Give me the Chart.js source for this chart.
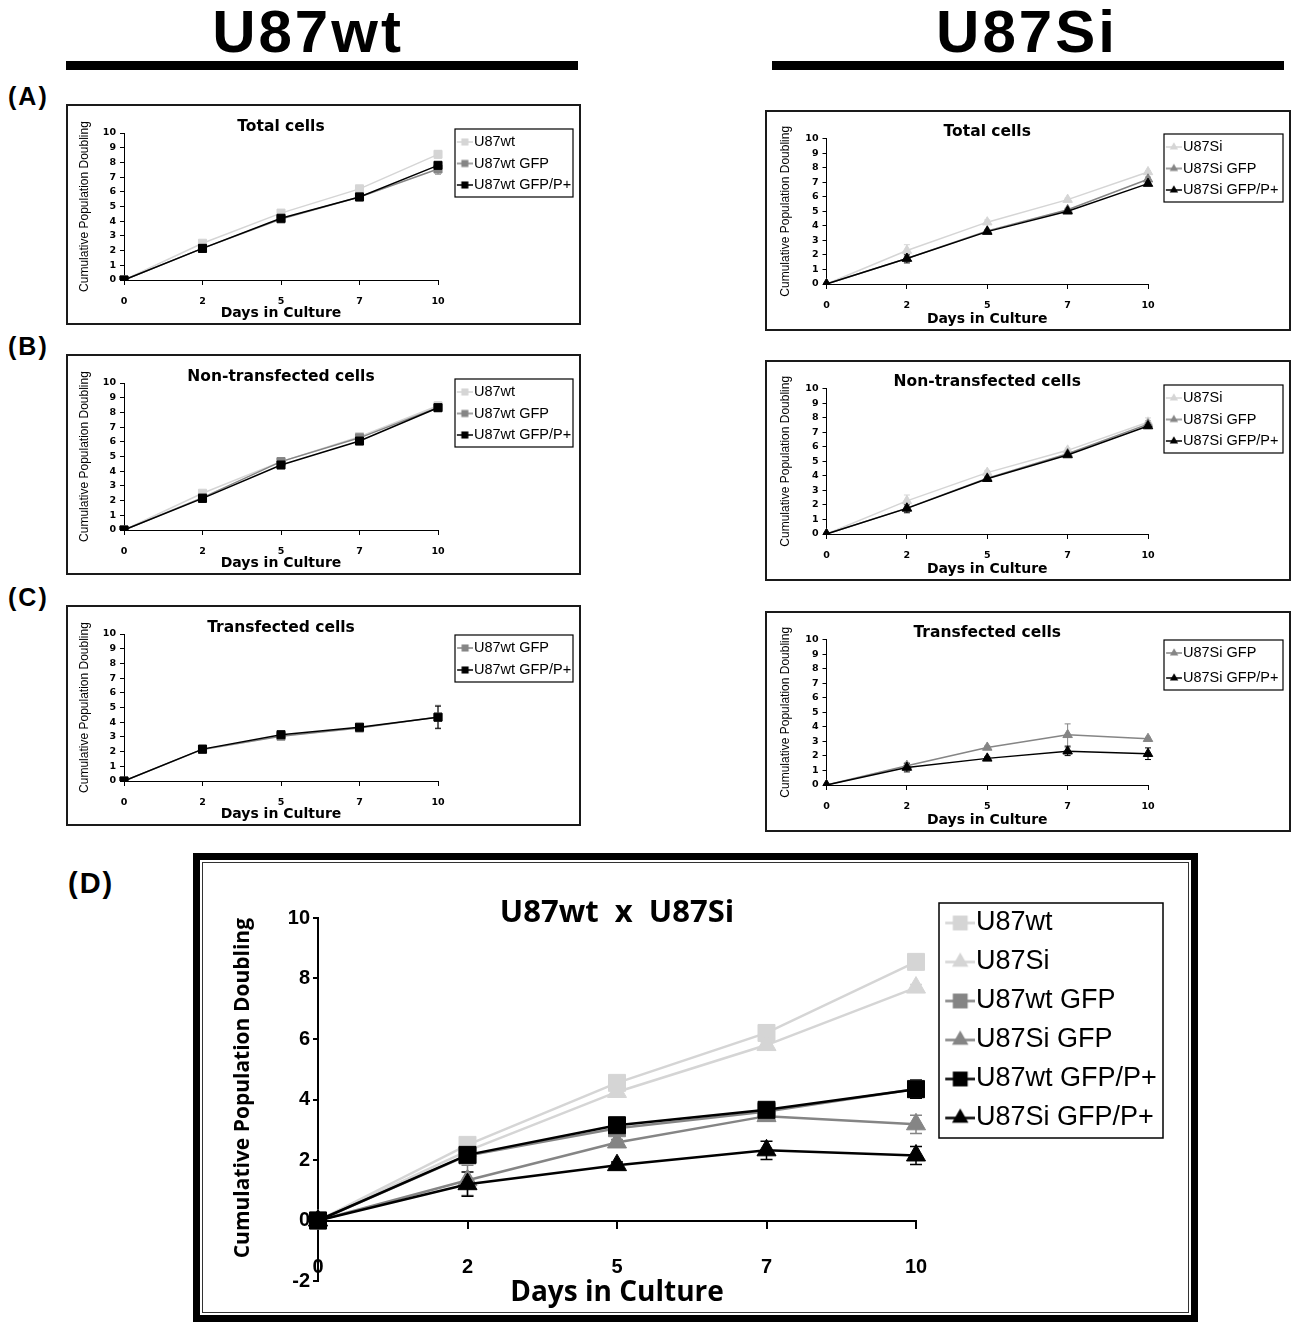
<!DOCTYPE html>
<html lang="en">
  <head>
    <meta charset="UTF-8" />
    <title>U87wt x U87Si — Cumulative Population Doubling</title>
    <script src="https://cdn.jsdelivr.net/npm/chart.js@4.4.1/dist/chart.umd.min.js"></script>
    <style>
      body {
        margin: 0;
        width: 1293px;
        height: 1322px;
        position: relative;
        overflow: hidden;
        background: #fff;
        font-family: "Liberation Sans", Arial, sans-serif;
        color: #000;
      }
      .head {
        position: absolute;
        top: 2px;
        width: 400px;
        text-align: center;
        font-weight: bold;
        font-size: 60px;
        line-height: 60px;
        letter-spacing: 3px;
      }
      .bar {
        position: absolute;
        top: 61px;
        width: 512px;
        height: 9px;
        background: #000;
      }
      .tag {
        position: absolute;
        font-weight: bold;
        font-size: 25px;
        line-height: 25px;
        letter-spacing: 2px;
      }
      .panel {
        position: absolute;
        box-sizing: border-box;
        border: 2px solid #1a1a1a;
        background: #fff;
      }
      .panel canvas { display: block; }
      /* double frame round panel D */
      .frame {
        position: absolute;
        left: 193px;
        top: 853px;
        width: 1005px;
        height: 469px;
        box-sizing: border-box;
        border: 7px solid #000;
        background: #fff;
      }
      .frame .inner {
        position: absolute;
        inset: 2px;
        border: 1.5px solid #333;
      }
      #chartD { position: absolute; left: 205px; top: 860px; }
    </style>
  </head>
  <body>
    <div class="head" style="left: 108px">U87wt</div>
    <div class="bar" style="left: 66px"></div>
    <div class="head" style="left: 827px">U87Si</div>
    <div class="bar" style="left: 772px"></div>

    <div class="tag" style="left: 8px; top: 84px">(A)</div>
    <div class="tag" style="left: 8px; top: 334px">(B)</div>
    <div class="tag" style="left: 8px; top: 585px">(C)</div>
    <div class="tag" style="left: 68px; top: 869px; font-size: 29px; line-height: 29px">(D)</div>

    <div class="panel" style="left: 66px; top: 104px; width: 515px; height: 221px"><canvas id="chartAwt" width="511" height="217"></canvas></div>
    <div class="panel" style="left: 66px; top: 354px; width: 515px; height: 221px"><canvas id="chartBwt" width="511" height="217"></canvas></div>
    <div class="panel" style="left: 66px; top: 605px; width: 515px; height: 221px"><canvas id="chartCwt" width="511" height="217"></canvas></div>
    <div class="panel" style="left: 765px; top: 110px; width: 526px; height: 221px"><canvas id="chartAsi" width="522" height="217"></canvas></div>
    <div class="panel" style="left: 765px; top: 360px; width: 526px; height: 221px"><canvas id="chartBsi" width="522" height="217"></canvas></div>
    <div class="panel" style="left: 765px; top: 611px; width: 526px; height: 221px"><canvas id="chartCsi" width="522" height="217"></canvas></div>

    <div class="frame"><div class="inner"></div></div>
    <canvas id="chartD" width="985" height="454"></canvas>

    <script>
      // days in culture (category axis)
      const days = ["0", "2", "5", "7", "10"];

      // (A) total cells
      const wtTotal = [0, 2.5, 4.55, 6.2, 8.55];
      const wtTotalErr = [0, 0.1, 0.1, 0.1, 0.25];
      const wtGfpTotal = [0, 2.15, 4.15, 5.65, 7.55];
      const wtGfpTotalErr = [0, 0.1, 0.15, 0.1, 0.35];
      const wtPTotal = [0, 2.15, 4.2, 5.65, 7.8];
      const wtPTotalErr = [0, 0.1, 0.1, 0.1, 0.2];
      const siTotal = [0, 2.3, 4.25, 5.8, 7.7];
      const siTotalErr = [0, 0.4, 0.15, 0.1, 0.1];
      const siGfpTotal = [0, 1.75, 3.65, 5.1, 7.2];
      const siGfpTotalErr = [0, 0.2, 0.1, 0.1, 0.15];
      const siPTotal = [0, 1.75, 3.6, 5.0, 6.9];
      const siPTotalErr = [0, 0.3, 0.1, 0.1, 0.1];

      // (B) non-transfected cells
      const wtNon = [0, 2.5, 4.65, 6.35, 8.45];
      const wtNonErr = [0, 0.1, 0.1, 0.1, 0.25];
      const wtGfpNon = [0, 2.2, 4.65, 6.27, 8.33];
      const wtGfpNonErr = [0, 0.1, 0.1, 0.1, 0.2];
      const wtPNon = [0, 2.15, 4.42, 6.05, 8.32];
      const wtPNonErr = [0, 0.1, 0.1, 0.1, 0.25];
      const siNon = [0, 2.28, 4.22, 5.75, 7.68];
      const siNonErr = [0, 0.4, 0.15, 0.15, 0.3];
      const siGfpNon = [0, 1.78, 3.84, 5.52, 7.55];
      const siGfpNonErr = [0, 0.2, 0.1, 0.15, 0.25];
      const siPNon = [0, 1.76, 3.8, 5.43, 7.42];
      const siPNonErr = [0, 0.3, 0.1, 0.1, 0.15];

      // (C) transfected cells
      const wtGfpTr = [0, 2.15, 3.05, 3.6, 4.35];
      const wtGfpTrErr = [0, 0.1, 0.1, 0.15, 0.8];
      const wtPTr = [0, 2.17, 3.15, 3.66, 4.34];
      const wtPTrErr = [0, 0.1, 0.1, 0.2, 0.75];
      const siGfpTr = [0, 1.33, 2.58, 3.45, 3.18];
      const siGfpTrErr = [0, 0.15, 0.1, 0.75, 0.1];
      const siPTr = [0, 1.2, 1.83, 2.32, 2.15];
      const siPTrErr = [0, 0.3, 0.1, 0.3, 0.4];

      // (D) error bars of the combined plot
      const dWtErr = [0, 0.1, 0.1, 0.1, 0.25];
      const dSiErr = [0, 0.3, 0.1, 0.1, 0.1];
      const dWtGfpErr = [0, 0.1, 0.1, 0.1, 0.3];
      const dSiGfpErr = [0, 0.5, 0.1, 0.15, 0.3];
      const dWtPErr = [0, 0.1, 0.1, 0.1, 0.3];
      const dSiPErr = [0, 0.4, 0.1, 0.3, 0.3];

      const LIGHT = "#d5d5d5";
      const MID = "#858585";
      const DARK = "#000000";

      // panel geometry (canvas pixels)
      const LEFT_GEO = { w: 511, h: 217, left: 56, right: 370, top: 27, bottom: 174, yTitleX: 17, labelY: 196, xTitleY: 207, titleY: 21, textX: 406, boxL: 17, boxR: 135 };
      const RIGHT_GEO = { w: 522, h: 217, left: 59.5, right: 381, top: 26.5, bottom: 172, yTitleX: 19, labelY: 194, xTitleY: 207, titleY: 20, textX: 416, boxL: 16, boxR: 135 };

      // error bars, drawn under the lines
      const errorBars = {
        id: "errorBars",
        beforeDatasetsDraw(chart, args, opts) {
          const { ctx } = chart;
          const y = chart.scales.y;
          chart.data.datasets.forEach((ds, i) => {
            if (!ds.errors) return;
            const pts = chart.getDatasetMeta(i).data;
            ctx.save();
            ctx.strokeStyle = ds.borderColor;
            ctx.lineWidth = opts.width;
            ds.errors.forEach((e, j) => {
              if (!e) return;
              const x = pts[j].x;
              const top = y.getPixelForValue(ds.data[j] + e);
              const bot = y.getPixelForValue(ds.data[j] - e);
              ctx.beginPath();
              ctx.moveTo(x, top);
              ctx.lineTo(x, bot);
              ctx.moveTo(x - opts.cap, top);
              ctx.lineTo(x + opts.cap, top);
              ctx.moveTo(x - opts.cap, bot);
              ctx.lineTo(x + opts.cap, bot);
              ctx.stroke();
            });
            ctx.restore();
          });
        },
      };

      // fixed legend width + a frame round the legend items
      function legendFrame(width, box) {
        return {
          id: "legendFrame",
          beforeLayout(chart) {
            const lg = chart.legend;
            if (lg && !lg.fixedFit) {
              const fit = lg.fit;
              lg.fit = function () {
                fit.call(this);
                this.width = width;
              };
              lg.fixedFit = true;
            }
          },
          afterDraw(chart) {
            const lg = chart.legend;
            const hb = lg.legendHitBoxes;
            if (!hb || !hb.length) return;
            const first = hb[0];
            const last = hb[hb.length - 1];
            const top = first.top + first.height / 2 - box.up;
            const bottom = last.top + last.height / 2 + box.down;
            const ctx = chart.ctx;
            ctx.save();
            ctx.strokeStyle = "#000";
            ctx.lineWidth = box.line;
            ctx.strokeRect(lg.left + box.l, top, box.r - box.l, bottom - top);
            ctx.restore();
          },
        };
      }

      // little "-■-" symbol for the legend
      function legendIcon(color, shape, r, symW, w, lineW) {
        const c = document.createElement("canvas");
        const h = Math.ceil(2 * r + 4);
        c.width = Math.round(w);
        c.height = h;
        const g = c.getContext("2d");
        const cx = c.width - symW / 2;
        const cy = h / 2;
        g.strokeStyle = color;
        g.fillStyle = color;
        g.lineWidth = lineW;
        g.beginPath();
        g.moveTo(c.width - symW, cy);
        g.lineTo(c.width, cy);
        g.stroke();
        g.beginPath();
        if (shape === "rect") {
          const s = r * Math.SQRT1_2;
          g.rect(cx - s, cy - s, 2 * s, 2 * s);
        } else {
          g.moveTo(cx, cy - r);
          g.lineTo(cx + r * 0.866, cy + r / 2);
          g.lineTo(cx - r * 0.866, cy + r / 2);
          g.closePath();
        }
        g.fill();
        return c;
      }

      function series(label, data, errors, color, shape) {
        return { label, data, errors, color, shape };
      }

      function toDatasets(sets, rRect, rTri, lw) {
        return sets.map((s, i) => ({
          label: s.label,
          data: s.data,
          errors: s.errors,
          xAxisID: "x",
          borderColor: s.color,
          backgroundColor: s.color,
          pointBackgroundColor: s.color,
          pointBorderColor: s.color,
          pointStyle: s.shape,
          pointRadius: s.shape === "rect" ? rRect : rTri,
          pointHoverRadius: s.shape === "rect" ? rRect : rTri,
          pointBorderWidth: 1,
          borderWidth: lw,
          tension: 0,
          order: sets.length - i,
        }));
      }

      const tickFont = { family: '"DejaVu Sans", sans-serif', weight: "bold", size: 9.5, lineHeight: 1.2 };

      function smallChart(id, geo, titleText, sets, firstItem, pitch) {
        const fs = 14.5;
        const pad = pitch - fs;
        const B = geo.textX - geo.right - pad - fs / 2;
        const icons = sets.map((s) =>
          legendIcon(s.color, s.shape, s.shape === "rect" ? 5 : 4.8, 16, B + fs - 2, 1.5)
        );
        const titleLh = 15.5;
        const titleTop = geo.titleY - titleLh / 2;

        new Chart(document.getElementById(id), {
          type: "line",
          data: { labels: days, datasets: toDatasets(sets, 5.7, 5.5, 1.5) },
          options: {
            responsive: false,
            animation: false,
            events: [],
            layout: { padding: 0 },
            plugins: {
              errorBars: { cap: 3, width: 1 },
              tooltip: { enabled: false },
              title: {
                display: true,
                text: titleText,
                fullSize: false,
                color: "#000",
                font: { family: '"DejaVu Sans", sans-serif', weight: "bold", size: 15.5, lineHeight: 1 },
                padding: { top: titleTop, bottom: geo.top - titleTop - titleLh },
              },
              legend: {
                position: "right",
                align: "start",
                fullSize: true,
                title: {
                  display: true,
                  text: "",
                  font: { size: 1, lineHeight: 1 },
                  padding: { top: firstItem - pad - fs / 2 - 1, bottom: 0 },
                },
                labels: {
                  usePointStyle: true,
                  pointStyleWidth: B,
                  padding: pad,
                  color: "#000",
                  font: { family: '"Liberation Sans", Arial, sans-serif', size: fs },
                  generateLabels: (chart) =>
                    chart.data.datasets.map((d, i) => ({
                      text: d.label,
                      pointStyle: icons[i],
                      fillStyle: d.borderColor,
                      strokeStyle: d.borderColor,
                      lineWidth: 0,
                      hidden: false,
                      fontColor: "#000",
                      datasetIndex: i,
                    })),
                },
              },
            },
            scales: {
              x: {
                type: "category",
                offset: false,
                afterFit: (s) => {
                  s.height = geo.h - geo.bottom;
                },
                grid: { drawOnChartArea: false, tickLength: 5, color: "#000" },
                border: { color: "#000", width: 1 },
                ticks: {
                  color: "#000",
                  font: tickFont,
                  padding: geo.labelY - geo.bottom - 5 - 5.7,
                  maxRotation: 0,
                  autoSkip: false,
                },
                title: {
                  display: true,
                  text: "Days in Culture",
                  color: "#000",
                  font: { family: '"DejaVu Sans", sans-serif', weight: "bold", size: 14, lineHeight: 1.2 },
                  padding: { top: 0, bottom: geo.h - geo.xTitleY - 8.4 },
                },
              },
              y: {
                min: 0,
                max: 10,
                afterFit: (s) => {
                  s.width = geo.left;
                },
                grid: { drawOnChartArea: false, tickLength: 4, color: "#000" },
                border: { color: "#000", width: 1 },
                ticks: { stepSize: 1, padding: 4, color: "#000", font: tickFont },
                title: {
                  display: true,
                  text: "Cumulative Population Doubling",
                  color: "#000",
                  font: { family: '"Liberation Sans", Arial, sans-serif', size: 12, lineHeight: 1.2 },
                  padding: { top: geo.yTitleX - 7.2, bottom: 0 },
                },
              },
            },
          },
          plugins: [errorBars, legendFrame(geo.w - geo.right, { l: geo.boxL, r: geo.boxR, up: 13, down: 12, line: 1.2 })],
        });
      }

      smallChart("chartAwt", LEFT_GEO, "Total cells", [
        series("U87wt", wtTotal, wtTotalErr, LIGHT, "rect"),
        series("U87wt GFP", wtGfpTotal, wtGfpTotalErr, MID, "rect"),
        series("U87wt GFP/P+", wtPTotal, wtPTotalErr, DARK, "rect"),
      ], 36, 21.5);

      smallChart("chartBwt", LEFT_GEO, "Non-transfected cells", [
        series("U87wt", wtNon, wtNonErr, LIGHT, "rect"),
        series("U87wt GFP", wtGfpNon, wtGfpNonErr, MID, "rect"),
        series("U87wt GFP/P+", wtPNon, wtPNonErr, DARK, "rect"),
      ], 36, 21.5);

      smallChart("chartCwt", LEFT_GEO, "Transfected cells", [
        series("U87wt GFP", wtGfpTr, wtGfpTrErr, MID, "rect"),
        series("U87wt GFP/P+", wtPTr, wtPTrErr, DARK, "rect"),
      ], 41, 22);

      smallChart("chartAsi", RIGHT_GEO, "Total cells", [
        series("U87Si", siTotal, siTotalErr, LIGHT, "triangle"),
        series("U87Si GFP", siGfpTotal, siGfpTotalErr, MID, "triangle"),
        series("U87Si GFP/P+", siPTotal, siPTotalErr, DARK, "triangle"),
      ], 35, 21.5);

      smallChart("chartBsi", RIGHT_GEO, "Non-transfected cells", [
        series("U87Si", siNon, siNonErr, LIGHT, "triangle"),
        series("U87Si GFP", siGfpNon, siGfpNonErr, MID, "triangle"),
        series("U87Si GFP/P+", siPNon, siPNonErr, DARK, "triangle"),
      ], 36, 21.5);

      smallChart("chartCsi", RIGHT_GEO, "Transfected cells", [
        series("U87Si GFP", siGfpTr, siGfpTrErr, MID, "triangle"),
        series("U87Si GFP/P+", siPTr, siPTrErr, DARK, "triangle"),
      ], 40, 25);

      // (D) U87wt x U87Si
      const dSets = [
        series("U87wt", wtTotal, dWtErr, LIGHT, "rect"),
        series("U87Si", siTotal, dSiErr, LIGHT, "triangle"),
        series("U87wt GFP", wtGfpTr, dWtGfpErr, MID, "rect"),
        series("U87Si GFP", siGfpTr, dSiGfpErr, MID, "triangle"),
        series("U87wt GFP/P+", wtPTr, dWtPErr, DARK, "rect"),
        series("U87Si GFP/P+", siPTr, dSiPErr, DARK, "triangle"),
      ];
      const D_GEO = { w: 985, h: 454, left: 113, right: 711, top: 58, bottom: 421, zeroY: 360.5, yTitleX: 38, labelY: 407, xTitleY: 433, titleY: 53, textX: 771 };
      const dFs = 27;
      const dPad = 12;
      const dB = D_GEO.textX - D_GEO.right - dPad - dFs / 2;
      const dIcons = dSets.map((s) =>
        legendIcon(s.color, s.shape, s.shape === "rect" ? 10.5 : 9.5, 30, dB + dFs - 2, 2.5)
      );
      const bigTick = { family: '"Liberation Sans", Arial, sans-serif', weight: "bold", size: 20, lineHeight: 1.2 };

      new Chart(document.getElementById("chartD"), {
        type: "line",
        data: { labels: days, datasets: toDatasets(dSets, 12, 11, 2.5) },
        options: {
          responsive: false,
          animation: false,
          events: [],
          layout: { padding: 0 },
          plugins: {
            errorBars: { cap: 6, width: 1.5 },
            tooltip: { enabled: false },
            title: {
              display: true,
              text: "U87wt  x  U87Si",
              fullSize: false,
              color: "#000",
              font: { family: '"Open Sans", sans-serif', weight: "bold", size: 31, lineHeight: 1 },
              padding: { top: D_GEO.titleY - 15.5, bottom: D_GEO.top - (D_GEO.titleY - 15.5) - 31 },
            },
            legend: {
              position: "right",
              align: "start",
              fullSize: true,
              title: {
                display: true,
                text: "",
                font: { size: 1, lineHeight: 1 },
                padding: { top: 63 - dPad - dFs / 2 - 1, bottom: 0 },
              },
              labels: {
                usePointStyle: true,
                pointStyleWidth: dB,
                padding: dPad,
                color: "#000",
                font: { family: '"Liberation Sans", Arial, sans-serif', size: dFs },
                generateLabels: (chart) =>
                  chart.data.datasets.map((d, i) => ({
                    text: d.label,
                    pointStyle: dIcons[i],
                    fillStyle: d.borderColor,
                    strokeStyle: d.borderColor,
                    lineWidth: 0,
                    hidden: false,
                    fontColor: "#000",
                    datasetIndex: i,
                  })),
              },
            },
          },
          scales: {
            x: {
              type: "category",
              position: { y: 0 },
              offset: false,
              afterFit: (s) => {
                s.height = 0;
              },
              grid: { drawOnChartArea: false, tickLength: 7, lineWidth: 2, color: "#000" },
              border: { color: "#000", width: 2 },
              ticks: {
                color: "#000",
                font: bigTick,
                padding: D_GEO.labelY - D_GEO.zeroY - 7 - 12,
                maxRotation: 0,
                autoSkip: false,
              },
            },
            xt: {
              type: "category",
              position: "bottom",
              afterFit: (s) => {
                s.height = D_GEO.h - D_GEO.bottom;
              },
              grid: { display: false, drawTicks: false },
              border: { display: false },
              ticks: { display: false },
              title: {
                display: true,
                text: "Days in Culture",
                color: "#000",
                font: { family: '"Open Sans", sans-serif', weight: "bold", size: 28, lineHeight: 1.2 },
                padding: { top: 0, bottom: D_GEO.h - D_GEO.xTitleY - 16.8 },
              },
            },
            y: {
              min: -2,
              max: 10,
              afterFit: (s) => {
                s.width = D_GEO.left;
              },
              grid: { drawOnChartArea: false, tickLength: 5, lineWidth: 2, color: "#000" },
              border: { color: "#000", width: 2 },
              ticks: { stepSize: 2, padding: 3, color: "#000", font: bigTick },
              title: {
                display: true,
                text: "Cumulative Population Doubling",
                align: "end",
                color: "#000",
                font: { family: '"Open Sans", sans-serif', weight: "bold", size: 21, lineHeight: 1.2 },
                padding: { top: D_GEO.yTitleX - 12.6, bottom: 0 },
              },
            },
          },
        },
        plugins: [errorBars, legendFrame(D_GEO.w - D_GEO.right, { l: 23, r: 247, up: 20, down: 20, line: 1.5 })],
      });
    </script>
  </body>
</html>
